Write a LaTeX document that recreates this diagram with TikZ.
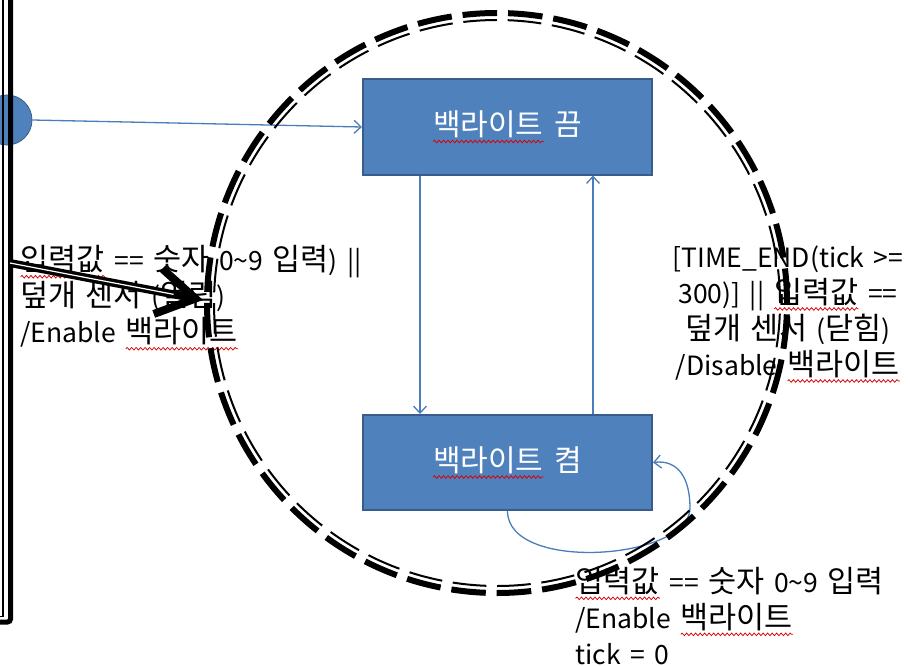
\documentclass[tikz,border=0pt]{standalone}
\usepackage{fontspec}
\setmainfont[WordSpace=1.6]{Noto Sans CJK KR}
\usetikzlibrary{arrows.meta,decorations.pathmorphing}
\definecolor{boxblue}{HTML}{4F81BD}
\definecolor{boxedge}{HTML}{385D8A}
\definecolor{linkblue}{HTML}{4A7EBB}
\newcommand\K[1]{{\fontsize{30.5}{36}\selectfont #1}}
\newcommand\sqw[1]{\tikz[baseline=(w.base)]{\node[shape=rectangle,draw=none,fill=none,inner sep=0pt,outer sep=0pt,minimum width=0pt,minimum height=0pt,anchor=center](w){#1};\draw[red!85!black,line width=0.75pt,decorate,decoration={snake,amplitude=1.3pt,segment length=4.5pt}]([yshift=-3.5pt]w.south west)--([yshift=-3.5pt]w.south east);}}
\begin{document}
\begin{tikzpicture}[x=1pt,y=-1pt,
  conn/.style={draw=linkblue,line width=1.3pt,-{Straight Barb[length=7pt,width=13pt]}},
  state/.style={draw=boxedge,line width=2pt,fill=boxblue,minimum width=289pt,minimum height=95pt,text=white,font=\fontsize{30}{36}\selectfont,inner sep=0pt},
  lbl/.style={font=\fontsize{26.5}{36}\selectfont,inner sep=0pt}]
\useasboundingbox (0,0) rectangle (910,666);
% states
\node[state] (off) at (507.5,127) {\sqw{백라이트} 끔};
\node[state] (on) at (507.5,462.5) {\sqw{백라이트} 켬};
% initial marker
\node[circle,fill=boxblue,draw=boxedge,line width=0.8pt,minimum size=50pt,inner sep=0pt] (init) at (7,120) {};
% frame
\draw[line width=5pt,rounded corners=3pt] (10.5,-10) -- (10.5,622) -- (-10,622);
\draw[line width=1.3pt] (3,-10) -- (3,616.5) -- (-10,616.5);
% connectors
\draw[conn] (init.east) -- (off.west);
\draw[conn] ([xshift=-87.5pt]off.south) -- ([xshift=-87.5pt]on.north);
\draw[conn] ([xshift=85.5pt]on.north) -- ([xshift=85.5pt]off.south);
\coordinate (loopR) at (690,508);
\draw[conn] (on.south) .. controls +(0,62) and +(0,52) .. (loopR) .. controls +(0,-30) and +(25,-3) .. (on.east);
% labels
\node[lbl,anchor=west,align=left] (lblL) at (20,298) {\K{\sqw{입력값}} == \K{숫자} 0\textasciitilde9 \K{입력}) ||\\\K{덮개} \K{센서} (\K{열림})\\/Enable \K{\sqw{백라이트}}};
\node[lbl,align=center] (lblR) at (788,314) {[TIME\_END(tick >=\\300)] || \K{\sqw{입력값}} ==\\\K{덮개} \K{센서} (\K{닫힘})\\/Disable \K{\sqw{백라이트}}};
\node[lbl,anchor=west,align=left] (lblB) at (575,616) {\K{\sqw{입력값}} == \K{숫자} 0\textasciitilde9 \K{입력}\\/Enable \K{\sqw{백라이트}}\\tick = 0};
% dashed double circle
\coordinate (cc) at (497,303);
\draw[line width=6pt,dash pattern=on 34.6pt off 10.95pt] (cc) circle[radius=290pt];
\draw[line width=2pt,dash pattern=on 33.77pt off 10.69pt] (cc) circle[radius=283pt];
% big black arrow
\coordinate (bs) at (10,263);
\coordinate (bt) at (203,300);
\draw[line width=8pt,-{Straight Barb[length=38pt,width=46pt]}] (bs) -- (bt);
\draw[white,line width=1.2pt,shorten >=30pt] (bs) -- (bt);
\end{tikzpicture}
\end{document}
